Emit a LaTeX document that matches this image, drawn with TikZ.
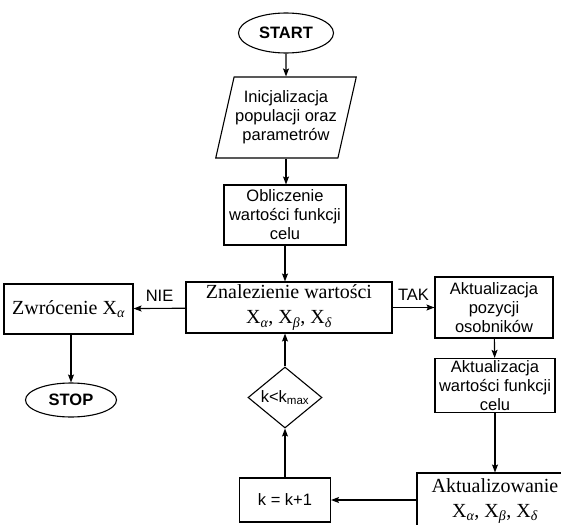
\documentclass[tikz,border=0pt]{standalone}
\usepackage{fontspec}
\setmainfont{Liberation Serif}
\setsansfont{Liberation Sans}
\usepackage{tikz}
\usetikzlibrary{shapes.geometric,arrows.meta}
\definecolor{ink}{HTML}{000000}
\newcommand{\gsub}[1]{\textsubscript{\itshape #1}}
\tikzset{
  box/.style={draw=ink, line width=1.1pt, rectangle, align=center, inner sep=2pt,
    font=\sffamily\fontsize{16.5}{19}\selectfont},
  serifbox/.style={box, font=\rmfamily\fontsize{20}{25}\selectfont},
  term/.style={draw=ink, line width=1.1pt, ellipse, inner sep=0pt,
    font=\sffamily\bfseries\fontsize{16.5}{19}\selectfont},
  io/.style={draw=ink, line width=1.1pt, trapezium, trapezium left angle=73,
    trapezium right angle=107, trapezium stretches body, align=center,
    inner xsep=1pt, font=\sffamily\fontsize{16.5}{19}\selectfont},
  decision/.style={draw=ink, line width=1.1pt, diamond, inner sep=-5pt,
    font=\sffamily\fontsize{16.5}{19}\selectfont},
  flow/.style={draw=ink, line width=1.1pt, -{Stealth[length=8pt,width=6pt,inset=1.5pt]}},
  lab/.style={text=ink, font=\sffamily\fontsize{16.5}{19}\selectfont},
}

\begin{document}
\begin{tikzpicture}[x=1pt,y=-1pt]
\useasboundingbox (0,0) rectangle (561,524);
\clip (0,0) rectangle (561,524);
% main column
\node[term, minimum width=95, minimum height=40] (start) at (286,33) {START};
\node[io, minimum height=81] (init) at (286,117.5) {Inicjalizacja\\populacji oraz\\parametrów};
\node[box, minimum width=122, minimum height=60] (calc) at (285,215) {Obliczenie\\wartości funkcji\\celu};
\node[serifbox, minimum width=206, minimum height=51] (find) at (289,307.5) {Znalezienie wartości\\X\gsub{α}, X\gsub{β}, X\gsub{δ}};

% left branch (NIE)
\node[serifbox, minimum width=129, minimum height=50] (ret) at (68.5,309) {Zwrócenie X\gsub{α}};
\node[term, minimum width=91, minimum height=34] (stop) at (71,400) {STOP};

% right branch (TAK)
\node[box, minimum width=118, minimum height=61] (upos) at (494,307.5) {Aktualizacja\\pozycji\\osobników};
\node[box, minimum width=120, minimum height=53] (uval) at (495,385.5) {Aktualizacja\\wartości funkcji\\celu};
\node[serifbox, minimum width=156, minimum height=56] (uxs) at (495,501) {Aktualizowanie\\X\gsub{α}, X\gsub{β}, X\gsub{δ}};

% loop back
\node[box, minimum width=91, minimum height=44] (inc) at (285,500) {k = k+1};
\node[decision, minimum width=74, minimum height=61] (cond) at (285,397.5) {k<k\textsubscript{max}};

% connectors
\draw[flow] (start) -- (init);
\draw[flow] (init.south -| start) -- (calc.north -| start);
\draw[flow] (calc) -- (find.north -| calc);
\draw[flow] (find) -- node[lab, above=3pt] {NIE} (ret);
\draw[flow] (find) -- node[lab, above=3pt] {TAK} (upos);
\draw[flow] (ret.south -| stop) -- (stop);
\draw[flow] (upos) -- (uval);
\draw[flow] (uval) -- (uxs);
\draw[flow] (uxs.west |- inc) -- (inc);
\draw[flow] (inc) -- (cond);
\draw[flow] (cond) -- (find.south -| cond);
\end{tikzpicture}
\end{document}
